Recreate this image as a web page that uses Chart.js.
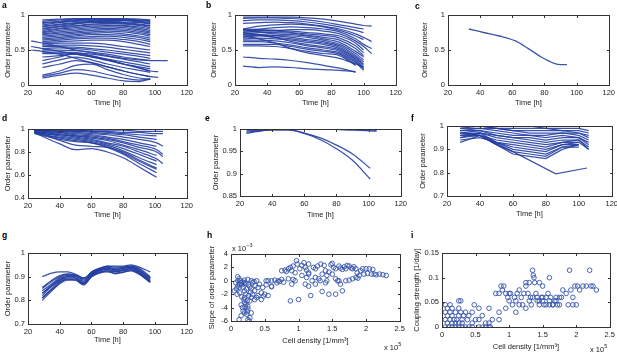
<!DOCTYPE html>
<html>
<head>
<meta charset="utf-8">
<script src="https://cdn.jsdelivr.net/npm/chart.js@4.4.1/dist/chart.umd.min.js"></script>
<style>
body { margin: 0; background: #fff; font-family: "Liberation Sans", Arial, sans-serif; }
#fig { position: relative; width: 617px; height: 354px; overflow: hidden; }
canvas { position: absolute; }
.lbl { position: absolute; font-weight: bold; font-size: 8.5px; color: #000; }
.exp { position: absolute; font-size: 7.5px; color: #222; white-space: nowrap; }
.exp sup { font-size: 5.5px; vertical-align: 4px; }
</style>
</head>
<body>
<div id="fig"></div>
<script>
// ---- panel a: order parameter vs time ----
const aTimes = [22, 29, 40, 50, 60, 70, 80, 90, 97, 102, 108];
const aOrder = [
    [null, .93, .94, .95, .95, .95, .95, .94, .93],
    [null, .91, .93, .94, .95, .94, .94, .93, .92],
    [null, .89, .91, .93, .94, .94, .93, .92, .91],
    [null, .88, .90, .92, .93, .93, .93, .91, .89],
    [null, .86, .89, .91, .92, .92, .92, .90, .88],
    [null, .84, .87, .89, .91, .91, .90, .89, .87],
    [null, .83, .86, .88, .90, .90, .89, .87, .85],
    [null, .81, .84, .87, .89, .89, .88, .86, .84],
    [null, .80, .83, .85, .87, .88, .87, .85, .82],
    [null, .78, .81, .84, .86, .86, .85, .83, .80],
    [null, .76, .80, .82, .84, .85, .84, .81, .78],
    [null, .75, .78, .80, .82, .83, .82, .79, .76],
    [null, .73, .76, .78, .80, .81, .80, .77, .74],
    [null, .72, .74, .76, .78, .79, .78, .75, .72],
    [null, .70, .72, .74, .76, .77, .76, .73, .70],
    [null, .68, .70, .72, .74, .75, .73, .70, .67],
    [null, .66, .68, .70, .72, .72, .71, .68, .64],
    [null, .64, .66, .68, .69, .70, .68, .65, .62],
    [null, .62, .64, .66, .67, .67, .65, .62, .58],
    [null, .60, .62, .63, .64, .64, .62, .58, .55],
    [null, .58, .60, .60, .60, .58, .55, .52, .50],
    [null, .56, .57, .57, .56, .54, .51, .48, .46],
    [null, .55, .55, .54, .52, .50, .47, .44, .42],
    [null, .52, .53, .52, .50, .47, .44, .41, .38],
    [null, .50, .50, .49, .47, .44, .40, .37, .35],
    [null, .47, .47, .46, .44, .41, .37, .33, .30],
    [null, .45, .45, .44, .41, .37, .33, .29, .26],
    [null, .40, .42, .44, .40, .35, .30, .26, .23],
    [null, .35, .40, .46, .42, .36, .30, .25, .20],
    [null, .30, .36, .40, .36, .30, .25, .21, .18],
    [null, .25, .30, .35, .32, .26, .20, .15, .12],
    [null, .14, .20, .28, .30, .22, .15, .10, .08],
    [null, .12, .17, .22, .20, .15, .10, .07, .08],
    [null, .10, .14, .17, .14, .10, .06, .05, .09],
    [.63, .60, .55, .50, .46, .42, .38, .36, .35, .35, .35],
    [.55, .52, .48, .44, .40, .36, .30, .24, .20, .19],
    [.50, .48, .44, .38, .32, .26, .20, .15, .12, .11]
];

// ---- panel b ----
const bTimes = [25, 35, 45, 55, 65, 75, 85, 95, 100, 105];
const bOrder = [
    [.97, .97, .97, .97, .96, .94, .91, .87, .85, .84],
    [.95, .96, .96, .95, .93, .90, .86, .82, .80],
    [.92, .93, .93, .92, .90, .87, .83, .78, .75],
    [.88, .89, .90, .89, .87, .84, .80, .73, .68, .62],
    [.80, .84, .86, .87, .86, .83, .78, .70, .65],
    [.78, .80, .82, .83, .82, .80, .76, .66, .58, .52],
    [.80, .79, .78, .79, .79, .77, .73, .63, .55, .45],
    [.77, .78, .78, .77, .75, .73, .70, .60, .50],
    [.75, .77, .77, .75, .73, .71, .67, .56, .46],
    [.73, .75, .75, .74, .71, .68, .64, .52, .42],
    [.79, .76, .73, .72, .70, .66, .61, .48, .40],
    [.72, .72, .71, .70, .68, .64, .58, .45, .36],
    [.70, .71, .70, .68, .65, .62, .56, .42, .33],
    [.68, .70, .68, .66, .63, .60, .54, .40, .30],
    [.66, .67, .66, .64, .61, .58, .52, .38, .28],
    [.75, .72, .68, .62, .58, .55, .50, .36, .25],
    [.64, .64, .63, .60, .56, .53, .48, .34, .23],
    [.62, .62, .60, .57, .53, .50, .46, .32, .21],
    [.58, .58, .58, .55, .51, .48, .44, .30],
    [.56, .56, .55, .52, .48, .45, .42, .28],
    [.70, .66, .60, .52, .46, .42, .38, .30, .26],
    [.40, .38, .37, .35, .32, .28, .24, .18],
    [.27, .25, .26, .25, .23, .22, .21, .19]
];

// ---- panel c ----
const cTimes = [33, 42, 52, 62, 70, 78, 86, 90, 94];
const cOrder = [.80, .75, .70, .63, .52, .40, .31, .29, .29];

// ---- panel d ----
const dTimes = [24, 30, 40, 50, 60, 70, 80, 90, 101, 105];
const dOrder = [
    [1.00, 1.00, 1.00, 1.00, 1.00, 1.00, 1.00, 1.00, 1.00, 1.00],
    [1.00, 1.00, 1.00, .99, .99, .99, .99, .98, .98, .98],
    [1.00, .99, .99, .99, .98, .98, .97, .97, .96, .96],
    [1.00, .99, .99, .98, .98, .97, .96, .95, .94],
    [.99, .99, .98, .98, .97, .96, .95, .93, .91],
    [.99, .99, .98, .97, .96, .95, .93, .91, .88, .85],
    [.99, .98, .97, .96, .95, .93, .91, .88, .85],
    [.99, .98, .97, .95, .94, .92, .89, .86, .82, .78],
    [.98, .97, .96, .94, .93, .91, .88, .84, .80, .76],
    [.98, .97, .95, .94, .92, .90, .86, .82, .77],
    [.98, .96, .95, .93, .91, .88, .85, .80, .74, .70],
    [.97, .96, .94, .92, .90, .87, .83, .78, .72],
    [.97, .95, .93, .91, .89, .86, .81, .75, .69],
    [.97, .95, .92, .90, .88, .85, .79, .72, .65],
    [.96, .94, .91, .89, .88, .84, .78, .70, .62],
    [.97, .93, .87, .82, .83, .80, .75, .67, .58],
    [.98, .95, .90, .86, .85, .84, .80, .73, .66]
];

// ---- panel e ----
const eTimes = [24, 30, 40, 50, 60, 70, 80, 90, 101, 105];
const eOrder = [
    [.996, .997, .999, 1.0, 1.0, 1.0, .999, .998, .996, .995],
    [.999, .999, .999, .999, .999, .999, .999, .998, .998, .997],
    [.990, .994, .998, .998, .990, .976, .956, .930, .888],
    [.993, .995, .998, .998, .991, .980, .964, .944, .912]
];

// ---- panel f ----
const fTimes = [28, 40, 50, 60, 70, 80, 90, 100, 106];
const fOrder = [
    [1.00, 1.00, 1.00, 1.00, 1.00, .99, .99, .99, .98],
    [1.00, 1.00, .99, .99, .99, .99, .98, .98, .97],
    [.99, 1.00, .99, .98, .98, .98, .98, .97, .96],
    [.99, .99, .99, .98, .97, .97, .97, .97, .95],
    [.98, .99, .98, .97, .96, .96, .97, .96, .94],
    [.98, .98, .97, .96, .96, .95, .96, .95, .93],
    [.97, .98, .96, .95, .95, .94, .95, .95, .92],
    [.97, .97, .96, .95, .94, .93, .94, .94, .91],
    [.96, .97, .95, .94, .93, .92, .93, .94, .90],
    [.96, .96, .94, .93, .92, .91, .93, .93, .90],
    [.95, .96, .93, .92, .91, .90, .92, .93],
    [.94, .95, .93, .91, .90, .89, .92, .92],
    [.95, .97, .93, .90, .89, .88, .91, .92],
    [.93, .96, .92, .89, .88, .87, .91, .91],
    [.97, .96, .92, .88, .87, .86, .90, .92]
];
const fOutlierTimes = [30, 40, 60, 86, 105];
const fOutlier = [.97, .96, .89, .795, .82];

// ---- panel g ----
const gTimes = [29, 35, 40, 45, 50, 55, 60, 65, 70, 75, 80, 85, 90, 97];
const gOrder = [
    [.80, .84, .87, .885, .885, .865, .90, .915, .92, .915, .92, .925, .91, .875],
    [.81, .85, .88, .89, .89, .87, .905, .92, .925, .92, .925, .93, .915, .88],
    [.82, .86, .885, .895, .895, .875, .91, .925, .93, .925, .93, .935, .92, .885],
    [.83, .865, .89, .90, .90, .88, .915, .93, .935, .93, .935, .94, .925, .89],
    [.84, .87, .895, .905, .905, .885, .92, .935, .94, .935, .94, .945, .93, .895],
    [.85, .88, .90, .91, .905, .89, .92, .935, .945, .94, .94, .945, .935, .90],
    [.90, .915, .92, .92, .91, .895, .91, .93, .945, .945, .945, .95, .94, .92],
    [.81, .845, .875, .89, .885, .868, .90, .918, .925, .912, .918, .928, .912, .878],
    [.83, .86, .885, .90, .895, .872, .905, .925, .932, .922, .928, .935, .918, .882],
    [.855, .885, .905, .912, .905, .893, .915, .93, .938, .93, .935, .94, .925, .895]
];

// ---- panel h: [cell density x1e5, slope x1e-3] ----
const hPoints = [
    [.08, -1.2], [.1, -.8], [.12, -.5], [.1, .6], [.12, .3], [.14, 0], [.15, -.3], [.16, -.6], [.18, -1], [.2, -1.5],
    [.22, -2], [.2, -2.5], [.24, -3], [.2, -3.2], [.22, -3.5], [.25, -3.8], [.18, -4.5], [.2, -4.8], [.23, -5], [.25, -4.2],
    [.15, -5.2], [.12, -5.8], [.25, -5.8], [.28, -5.5], [.3, -4.8], [.28, -3], [.3, -2.5], [.32, -2], [.35, -1.5], [.35, -2.8],
    [.38, -2.5], [.4, -2.2], [.4, -1], [.42, -.5], [.38, 0], [.3, 0], [.25, .2], [.2, .1], [.18, -.2], [.22, -.4],
    [.26, -.6], [.28, -.9], [.3, -1.2], [.32, -.3], [.34, -.1], [.05, -1.5], [.07, -.3], [.09, -2], [.13, -1.8], [.16, -2.4],
    [.19, -2.8], [.21, -3.9], [.24, -4.6], [.26, -2.2], [.29, -1.7], [.15, -3.6], [.17, -4], [.45, -1.8], [.48, -2.3], [.45, -2.8],
    [.5, -2], [.52, -.6], [.55, -2.2], [.47, -1], [.6, -.8], [.27, -6], [.1, 0], [.12, -1], [.2, -.3], [.23, -1.2], [.36, -.7],
    [.52, 0], [.6, 0], [.65, .1], [.7, 0], [.72, -.1], [.75, .2], [.68, -.3], [.75, 1.5], [.8, 1.6], [.85, 1.8],
    [.88, 2], [.9, 1.5], [.95, 1.2], [.97, 3], [.98, 2.5], [.92, .2], [.95, 0], [.9, -.5], [.88, -3], [1, -2.8],
    [.82, 1.4], [.85, .3], [.6, -.9], [.55, 0], [.78, -.2], [.92, 2.2],
    [1.02, 1.8], [1.05, 2.3], [1.08, 2.7], [1.1, 2], [1.12, 1.6], [1.15, 1.2], [1.15, 1], [1.12, .5], [1.1, -.5], [1.15, -.8],
    [1.18, -2.2], [1.2, 0], [1.22, 2], [1.25, 1.8], [1.28, 2.2], [1.25, -.5], [1.3, .3], [1.32, 0], [1.35, -1.6], [1.33, 2.5],
    [1.38, 2.3], [1.4, 1.5], [1.42, .8], [1.4, -.3], [1.45, 1.3], [1.48, 2.4], [1.5, 2.6], [1.5, 1], [1.52, 2], [1.55, 1.8],
    [1.55, .3], [1.6, 2.2], [1.62, 1.9], [1.58, 0], [1.62, -.5], [1.65, 1.7], [1.68, 2.1], [1.7, 1.8], [1.72, 2.3], [1.75, 2.2],
    [1.78, 1.9], [1.8, 1.8], [1.82, 2.1], [1.85, 1.8], [1.87, 1.2], [1.9, .8], [1.92, 1.5], [1.95, 1.8], [1.97, 1], [2, 1.8],
    [2.02, 1.1], [2.05, 1.8], [2.08, 1], [2.1, 1.7], [2.12, 1], [2.15, .9], [2.2, 1], [2.25, .9], [2.3, .8], [1.45, -2],
    [1.55, -2], [1.65, -1.5], [1.6, 0], [1.7, 0], [1.75, .1], [1.8, .3], [1.25, .5], [1.05, .8], [1.15, 2.5], [1.35, 1],
    [1.42, 0], [1.85, .5], [1.88, .4]
];

// ---- panel i: [cell density x1e5, coupling strength 1/day] ----
const iPoints = [
    [.05, 0], [.1, 0], [.15, 0], [.2, 0], [.25, 0], [.3, 0], [.35, 0], [.4, 0], [.45, 0], [.55, 0], [.6, 0], [.65, 0], [.7, 0], [.72, 0],
    [.08, .008], [.15, .008], [.2, .008], [.25, .008], [.3, .008], [.45, .008], [.65, .008], [.7, .008],
    [.05, .015], [.12, .015], [.18, .015], [.22, .015], [.3, .015], [.38, .015], [.5, .015], [.55, .015], [.75, .015], [.85, .015],
    [.08, .023], [.15, .023], [.25, .023], [.32, .023], [.4, .023], [.6, .023],
    [.05, .03], [.12, .03], [.2, .03], [.28, .03], [.35, .03], [.45, .03], [.85, .03],
    [.08, .038], [.15, .038], [.25, .038], [.55, .038], [.7, .038], [.95, .038],
    [.05, .045], [.12, .045], [.48, .045], [.25, .053], [.28, .053],
    [.8, .068], [.85, .068], [.9, .075], [.92, .083], [.95, .068], [.98, .06], [1, .053], [1.02, .068], [1.05, .045], [1.08, .06],
    [1.1, .053], [1.12, .068], [1.15, .075], [1.18, .06], [1.2, .045], [1.22, .068], [1.25, .083], [1.28, .068], [1.3, .09], [1.32, .06],
    [1.33, .045], [1.35, .115], [1.36, .105], [1.37, .1], [1.38, .09], [1.4, .068], [1.42, .053], [1.45, .045], [1.48, .06], [1.5, .053],
    [1.52, .045], [1.55, .06], [1.58, .068], [1.6, .045], [1.62, .06], [1.65, .045], [1.68, .053], [1.7, .06], [1.72, .045], [1.75, .045],
    [1.78, .06], [1.8, .075], [1.85, .068], [1.88, .045], [1.9, .115], [1.92, .075], [1.95, .06], [1.98, .083], [2, .045], [2.02, .083],
    [2.05, .075], [2.1, .083], [2.15, .083], [2.2, .115], [2.22, .083], [2.25, .083], [2.3, .075], [1.1, .03], [1.25, .038], [1.45, .09],
    [1.5, .083], [1.35, .06], [1.42, .06], [1.55, .045], [1.6, .053], [1.65, .045], [1.7, .053], [1.75, .06], [1.3, .053], [1.15, .045],
    [1.95, .045], [.88, .083], [1, .068], [1.45, .053], [1.5, .06], [1.25, .09], [1.6, .1]
];

Chart.defaults.font.family = '"Liberation Sans", Arial, sans-serif';
Chart.defaults.color = '#222';

const lineBlue = 'rgba(36,62,162,0.9)';
const dotBlue = '#3553ab';

function lineSets(times, series, opts) {
    return series.map(vals => Object.assign({
        data: times.map((t, i) => ({x: t, y: vals[i]})).filter(p => p.y != null),
        borderColor: lineBlue,
        borderWidth: 1.25,
        pointRadius: 0,
        cubicInterpolationMode: 'monotone',
        fill: false
    }, opts || {}));
}

function dotSet(points) {
    return [{
        data: points.map(p => ({x: p[0], y: p[1]})),
        showLine: false,
        pointRadius: 2.3,
        pointBorderWidth: 0.9,
        borderColor: dotBlue,
        backgroundColor: 'rgba(0,0,0,0)'
    }];
}

const fmt = v => String(+v.toFixed(3));

// draws the axis box with small inward ticks on all four sides
const boxTicks = {
    id: 'boxTicks',
    afterDraw(chart) {
        const {ctx, chartArea: a, scales: {x, y}} = chart;
        const l = Math.round(a.left) + 0.5, r = Math.round(a.right) + 0.5;
        const t = Math.round(a.top) + 0.5, b = Math.round(a.bottom) + 0.5;
        ctx.save();
        ctx.strokeStyle = '#333';
        ctx.lineWidth = 1;
        ctx.beginPath();
        x.ticks.forEach(tk => {
            const px = Math.round(x.getPixelForValue(tk.value)) + 0.5;
            ctx.moveTo(px, b); ctx.lineTo(px, b - 2.5);
            ctx.moveTo(px, t); ctx.lineTo(px, t + 2.5);
        });
        y.ticks.forEach(tk => {
            const py = Math.round(y.getPixelForValue(tk.value)) + 0.5;
            ctx.moveTo(l, py); ctx.lineTo(l + 2.5, py);
            ctx.moveTo(r, py); ctx.lineTo(r - 2.5, py);
        });
        ctx.stroke();
        ctx.strokeRect(l, t, r - l, b - t);
        ctx.restore();
    }
};

const fig = document.getElementById('fig');

function makePanel(p) {
    const L = p.yOff + 6, T = 10, R = 8, B = p.xOff + 6;
    const w = p.box[2] - p.box[0], h = p.box[3] - p.box[1];
    const c = document.createElement('canvas');
    c.width = L + w + R;
    c.height = T + h + B;
    c.style.left = (p.box[0] - L) + 'px';
    c.style.top = (p.box[1] - T) + 'px';
    fig.appendChild(c);
    new Chart(c, {
        type: 'line',
        data: {datasets: p.datasets},
        options: {
            responsive: false,
            animation: false,
            devicePixelRatio: 1,
            layout: {padding: {left: 0, top: T, right: R, bottom: 0}},
            plugins: {legend: {display: false}, tooltip: {enabled: false}},
            scales: {
                x: {
                    type: 'linear', min: p.x[0], max: p.x[1],
                    grid: {display: false, drawTicks: false}, border: {display: false},
                    ticks: {stepSize: p.x[2], padding: 3, font: {size: 7.5}, maxRotation: 0, autoSkip: false, callback: fmt},
                    title: {display: true, text: p.xTitle, font: {size: 7.5}, padding: {top: 0, bottom: 1.5}},
                    afterFit: s => { s.height = B; }
                },
                y: {
                    type: 'linear', min: p.y[0], max: p.y[1],
                    grid: {display: false, drawTicks: false}, border: {display: false},
                    ticks: {stepSize: p.y[2], padding: 3, font: {size: 7.5}, autoSkip: false, callback: fmt},
                    title: {display: true, text: p.yTitle, font: {size: 7.5}, padding: {top: 1.5, bottom: 0}},
                    afterFit: s => { s.width = L; }
                }
            }
        },
        plugins: [boxTicks]
    });
}

const timeX = [20, 120, 20];
const densX = [0, 2.5, 0.5];
const panels = [
    {box: [28, 15, 188, 85], yOff: 20, xOff: 18, x: timeX, y: [0, 1, 0.5], yTitle: 'Order parameter', xTitle: 'Time [h]',
        datasets: lineSets(aTimes, aOrder)},
    {box: [235, 15, 397, 85], yOff: 21, xOff: 18, x: timeX, y: [0, 1, 0.5], yTitle: 'Order parameter', xTitle: 'Time [h]',
        datasets: lineSets(bTimes, bOrder)},
    {box: [448, 15, 610, 85], yOff: 23, xOff: 18, x: timeX, y: [0, 1, 0.5], yTitle: 'Order parameter', xTitle: 'Time [h]',
        datasets: lineSets(cTimes, [cOrder], {borderColor: '#3a56a8', borderWidth: 1.3})},
    {box: [28, 129, 188, 198], yOff: 20, xOff: 17, x: timeX, y: [0.4, 1, 0.2], yTitle: 'Order parameter', xTitle: 'Time [h]',
        datasets: lineSets(dTimes, dOrder)},
    {box: [240, 129, 402, 196], yOff: 24, xOff: 19, x: timeX, y: [0.85, 1, 0.05], yTitle: 'Order parameter', xTitle: 'Time [h]',
        datasets: lineSets(eTimes, eOrder)},
    {box: [447, 126, 613, 196], yOff: 24, xOff: 18, x: timeX, y: [0.7, 1, 0.1], yTitle: 'Order parameter', xTitle: 'Time [h]',
        datasets: lineSets(fTimes, fOrder, {cubicInterpolationMode: 'default', tension: 0})
            .concat(lineSets(fOutlierTimes, [fOutlier], {cubicInterpolationMode: 'default', tension: 0}))},
    {box: [28, 253, 188, 324], yOff: 20, xOff: 16, x: timeX, y: [0.7, 1, 0.1], yTitle: 'Order parameter', xTitle: 'Time [h]',
        datasets: lineSets(gTimes, gOrder)},
    {box: [231, 254, 400, 321], yOff: 19, xOff: 20, x: densX, y: [-6, 4, 2], yTitle: 'Slope of order parameter', xTitle: 'Cell density [1/mm³]',
        datasets: dotSet(hPoints)},
    {box: [442, 253, 610, 327], yOff: 25, xOff: 20, x: densX, y: [0, 0.15, 0.05], yTitle: 'Coupling strength [1/day]', xTitle: 'Cell density [1/mm³]',
        datasets: dotSet(iPoints)}
];
panels.forEach(makePanel);

// panel letters and exponent notes
const letters = [['a', 2, 0], ['b', 206, 0], ['c', 415, 1], ['d', 2, 113], ['e', 205, 113], ['f', 411, 113], ['g', 2, 230], ['h', 207, 230], ['i', 411, 230]];
letters.forEach(([t, x, y]) => {
    const d = document.createElement('div');
    d.className = 'lbl';
    d.textContent = t;
    d.style.left = x + 'px';
    d.style.top = y + 'px';
    fig.appendChild(d);
});
const notes = [['x 10', '−3', 232, 242], ['x 10', '5', 384, 341], ['x 10', '5', 590, 343]];
notes.forEach(([t, s, x, y]) => {
    const d = document.createElement('div');
    d.className = 'exp';
    d.innerHTML = t + '<sup>' + s + '</sup>';
    d.style.left = x + 'px';
    d.style.top = y + 'px';
    fig.appendChild(d);
});
</script>
</body>
</html>
